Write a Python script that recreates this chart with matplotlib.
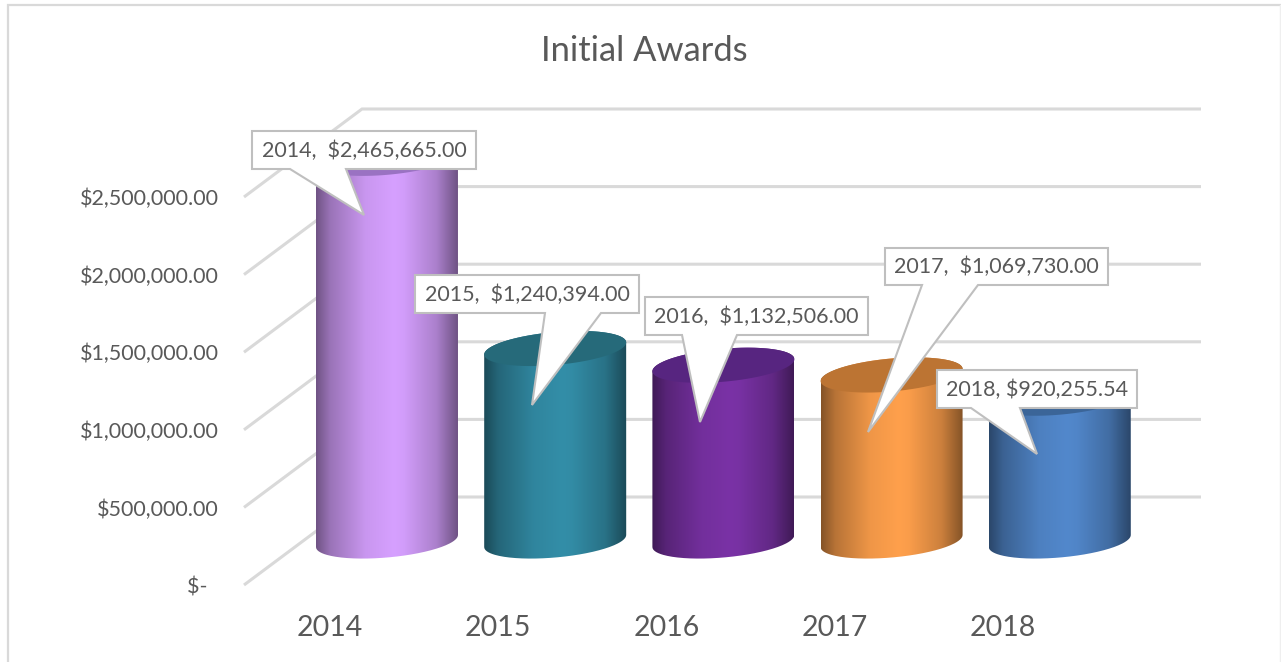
import numpy as np
import matplotlib
matplotlib.use('Agg')
import matplotlib.pyplot as plt
from matplotlib.colors import LinearSegmentedColormap, to_rgb
from matplotlib.patches import PathPatch, Polygon
from matplotlib.path import Path

plt.rcParams['font.family'] = ['Lato', 'DejaVu Sans']

# Datos
years = ['2014', '2015', '2016', '2017', '2018']
values = [2465665.00, 1240394.00, 1132506.00, 1069730.00, 920255.54]
label_texts = ['2014,  $2,465,665.00', '2015,  $1,240,394.00', '2016,  $1,132,506.00',
               '2017,  $1,069,730.00', '2018, $920,255.54']
grid_values = [0, 500000, 1000000, 1500000, 2000000, 2500000]
grid_labels = ['$-  ', '$500,000.00', '$1,000,000.00', '$1,500,000.00', '$2,000,000.00', '$2,500,000.00']

body_colors = ['#d6a0ff', '#338ea8', '#7a32a6', '#ffa04c', '#5288cc']
top_colors = ['#9a72c2', '#266a7a', '#572580', '#bc7433', '#3b6598']
shade_pos = [0.0, 0.10, 0.35, 0.55, 0.62, 0.85, 1.0]
shade_val = [0.52, 0.72, 0.94, 1.0, 0.98, 0.80, 0.52]

# Recuadros de las etiquetas (px de la imagen): caja, base de la punta, punta
boxes = [(252, 131, 476, 169), (415, 275, 639, 313), (645, 297, 868, 335),
         (885, 248, 1108, 285), (937, 370, 1137, 408)]
pointer_base = [(290, 346), (545, 601), (682, 737), (922, 978), (971, 1020)]
pointer_tip = [(364, 215), (532, 405), (700, 422), (868, 432), (1037, 454)]

W, H = 1281, 662
PX_PER_CAT = 168.2
PX_PER_USD = 77.6 / 500000
X0, Y0 = 387, 541         # centro de la base del primer cilindro
DEPTH_X, DEPTH_FRONT, DEPTH_BACK = 59, 44, 44
RX, RY, SHEAR = 71, 16.5, 0.085
TEXT = '#595959'
GRID = '#d9d9d9'

fig = plt.figure(figsize=(W / 100, H / 100), dpi=100)
left, right, bottom, top = 244, 1201, 600, 100
ax = fig.add_axes([left / W, 1 - bottom / H, (right - left) / W, (bottom - top) / H])
ax.set_facecolor('none')
xlim = ((left - X0) / PX_PER_CAT, (right - X0) / PX_PER_CAT)
ylim = ((Y0 - bottom) / PX_PER_USD, (Y0 - top) / PX_PER_USD)


def px_x(dx):
    return dx / PX_PER_CAT


def px_y(dy):
    return dy / PX_PER_USD


# Cuadricula: pared lateral + pared del fondo
x_front, x_back = xlim[0], xlim[0] + px_x(2 * DEPTH_X)
for v in grid_values:
    ax.plot([x_front, x_back, xlim[1]], [v - px_y(DEPTH_FRONT), v + px_y(DEPTH_BACK), v + px_y(DEPTH_BACK)],
            color=GRID, lw=2.2, solid_capstyle='butt', solid_joinstyle='miter', zorder=1, clip_on=False)

# Cilindros
t = np.linspace(0, 2 * np.pi, 181)
ex, ey = RX * np.cos(t), RY * np.sin(t) + SHEAR * RX * np.cos(t)
for i, v in enumerate(values):
    rgb = np.array(to_rgb(body_colors[i]))
    cmap = LinearSegmentedColormap.from_list(
        'c%d' % i, [(p, tuple(rgb * s)) for p, s in zip(shade_pos, shade_val)])
    grad = np.linspace(0, 1, 256).reshape(1, -1)
    im = ax.imshow(grad, cmap=cmap, aspect='auto', zorder=3, interpolation='bilinear',
                   extent=(i - px_x(RX), i + px_x(RX), px_y(-RY - 8), v + px_y(RY + 8)))
    # silueta: parte inferior de la elipse de base y superior de la tapa
    low = t[(t >= np.pi) & (t <= 2 * np.pi)]
    up = t[t <= np.pi]
    bx = i + px_x(RX * np.cos(low))
    by = px_y(RY * np.sin(low) + SHEAR * RX * np.cos(low))
    tx = i + px_x(RX * np.cos(up))
    ty = v + px_y(RY * np.sin(up) + SHEAR * RX * np.cos(up))
    verts = np.vstack([np.column_stack([bx, by]), np.column_stack([tx, ty]), [[bx[0], by[0]]]])
    clip = Path(verts)
    im.set_clip_path(PathPatch(clip, transform=ax.transData))
    ax.fill(i + px_x(ex), v + px_y(ey), color=top_colors[i], lw=0, zorder=4)

ax.set_xlim(xlim)
ax.set_ylim(ylim)
for s in ax.spines.values():
    s.set_visible(False)
ax.set_xticks(np.arange(len(years)) - px_x(57))
ax.set_xticklabels(years, fontsize=20.5, color=TEXT)
ax.set_yticks(np.array(grid_values) - px_y(DEPTH_FRONT))
ax.set_yticklabels(grid_labels, fontsize=15.5, color=TEXT)
ax.tick_params(axis='both', length=0)
ax.tick_params(axis='y', pad=18.3)
ax.tick_params(axis='x', pad=10.5)

# Capa en px para titulo, borde y etiquetas
over = fig.add_axes([0, 0, 1, 1], zorder=5)
over.set_xlim(0, W)
over.set_ylim(H, 0)
over.axis('off')
over.plot([7.5, 7.5, W], [H, 5, 5], color=GRID, lw=1.6, solid_joinstyle='miter')
over.plot([W - 1, W - 1], [5, H], color='#efefef', lw=1)
over.text(644.5, 51, 'Initial Awards', ha='center', va='center', fontsize=24.8, color=TEXT)

for txt, b, base, tip in zip(label_texts, boxes, pointer_base, pointer_tip):
    x1, y1, x2, y2 = b
    outline = [(x1, y1), (x2, y1), (x2, y2), (base[1], y2), tip, (base[0], y2), (x1, y2)]
    over.add_patch(Polygon(outline, closed=True, fc='white', ec='#bfbfbf', lw=1.5, joinstyle='miter'))
    over.text((x1 + x2) / 2, (y1 + y2) / 2 + 0.5, txt, ha='center', va='center', fontsize=15.5, color=TEXT)

fig.savefig('out.png', dpi=100)
